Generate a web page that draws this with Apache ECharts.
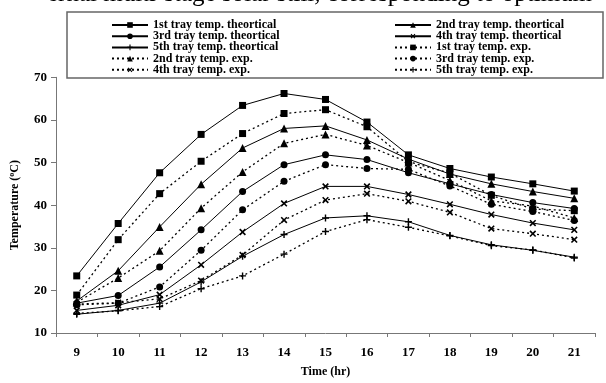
<!DOCTYPE html>
<html><head><meta charset="utf-8">
<script src="https://cdn.jsdelivr.net/npm/echarts@6/dist/echarts.min.js"></script>
<style>html,body{margin:0;padding:0;background:#fff}#c{width:606px;height:383px}</style>
</head><body><div id="c"></div>
<script>
var hours = ['9','10','11','12','13','14','15','16','17','18','19','20','21'];
var th1 = [23.4,35.7,47.6,56.6,63.4,66.2,64.8,59.5,51.8,48.6,46.6,45.0,43.3];
var th2 = [17.5,24.6,34.9,44.9,53.4,58.0,58.6,55.3,50.8,47.3,45.0,43.2,41.6];
var th3 = [17.0,18.8,25.5,34.2,43.2,49.5,51.8,50.7,47.6,45.0,42.5,40.6,39.2];
var th4 = [15.3,16.5,19.0,26.0,33.7,40.4,44.4,44.4,42.5,40.2,37.8,35.8,34.2];
var th5 = [14.4,15.3,17.0,22.0,28.0,33.1,37.0,37.5,36.1,32.9,30.7,29.4,27.8];
var ex1 = [18.9,31.9,42.7,50.3,56.8,61.5,62.4,58.4,50.2,47.5,42.3,39.1,38.7];
var ex2 = [17.2,22.9,29.3,39.3,47.8,54.5,56.6,54.0,50.0,45.8,41.0,39.8,37.0];
var ex3 = [16.6,17.0,20.8,29.4,38.9,45.6,49.5,48.6,48.4,44.5,40.2,38.5,36.4];
var ex4 = [16.8,17.1,18.0,22.3,28.3,36.5,41.2,42.7,40.9,38.3,34.5,33.3,31.9];
var ex5 = [14.6,15.2,16.2,20.4,23.4,28.5,33.8,36.6,34.8,32.8,30.5,29.5,27.6];
var yTicks = [10,20,30,40,50,60,70];
var names = ['1st tray temp. theortical','2nd tray temp. theortical','3rd tray temp. theortical','4th tray temp. theortical','5th tray temp. theortical',
             '1st tray temp. exp.','2nd tray temp. exp.','3rd tray temp. exp.','4th tray temp. exp.','5th tray temp. exp.'];

var FONT = 'Liberation Serif';
var PLUS = 'path://M4,0h2v4h4v2h-4v4h-2v-4h-4v-2h4z';
var markers = [
  {symbol:'rect', size:7, rot:0},
  {symbol:'triangle', size:8, rot:0},
  {symbol:'circle', size:7, rot:0},
  {symbol:PLUS, size:8, rot:45},
  {symbol:PLUS, size:7, rot:0}
];
var allData = [th1,th2,th3,th4,th5,ex1,ex2,ex3,ex4,ex5];
var series = allData.map(function(d,i){
  var m = markers[i%5];
  var exp = i>=5;
  return {
    name:names[i], type:'line', data:d,
    symbol:m.symbol, symbolSize:m.size, symbolRotate:m.rot, showSymbol:true,
    itemStyle:{color:'#000'},
    lineStyle:{color:'#000', width: exp?1.3:1, type: exp?[2,3]:'solid'},
    z: exp?2:3
  };
});

var legendText = {fontFamily:FONT, fontWeight:'bold', fontSize:12, color:'#000', lineHeight:11};
var chart = echarts.init(document.getElementById('c'));
chart.setOption({
  animation:false,
  backgroundColor:'#fff',
  grid:{left:53, right:11, top:77.3, bottom:45.7},
  legend:[
    {orient:'vertical', left:106, top:14, itemGap:-0.8, itemWidth:36, itemHeight:7,
     data:[names[0],names[2],names[4],names[6],names[8]], textStyle:legendText, inactiveColor:'#000'},
    {orient:'vertical', left:389, top:14, itemGap:-0.8, itemWidth:36, itemHeight:7,
     data:[names[1],names[3],names[5],names[7],names[9]], textStyle:legendText, inactiveColor:'#000'}
  ],
  graphic:[
    {type:'rect', shape:{x:67, y:12, width:536, height:66}, style:{fill:'none', stroke:'#666', lineWidth:1.5}, z:-1},
    {type:'text', left:47, top:-18, style:{text:'ernal multi-stage solar still, corresponding to optimum', font:'25px "Liberation Serif"', fill:'#000'}}
  ],
  xAxis:{
    type:'category', data:hours, boundaryGap:true,
    name:'Time (hr)', nameLocation:'middle', nameGap:33,
    nameTextStyle:{fontFamily:FONT, fontWeight:'bold', fontSize:12, color:'#000'},
    axisLine:{lineStyle:{color:'#777', width:1}},
    axisTick:{show:true, length:4, inside:false, lineStyle:{color:'#777'}, alignWithLabel:false},
    axisLabel:{fontFamily:FONT, fontWeight:'bold', fontSize:13, color:'#000', margin:13},
    splitLine:{show:false}
  },
  yAxis:{
    type:'value', min:10, max:70, interval:10,
    name:'Temperature ({sup|o}C)', nameLocation:'middle', nameGap:34, nameRotate:90,
    nameTextStyle:{fontFamily:FONT, fontWeight:'bold', fontSize:12, color:'#000',
      rich:{sup:{fontFamily:FONT, fontWeight:'bold', fontSize:8, color:'#000', verticalAlign:'bottom', padding:[0,0,6,0]}}},
    axisLine:{show:true, lineStyle:{color:'#777', width:1}},
    axisTick:{show:true, length:5, lineStyle:{color:'#777'}},
    axisLabel:{fontFamily:FONT, fontWeight:'bold', fontSize:13, color:'#000', margin:9},
    splitLine:{show:false}
  },
  series:series
});
</script></body></html>
